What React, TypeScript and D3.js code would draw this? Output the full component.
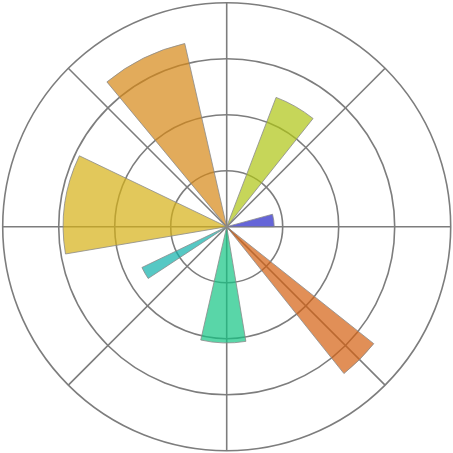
import * as React from "react"
import * as d3 from "d3"

// bar start angle (deg, ccw from east), angular width (deg), radius (0-10)
const barStarts = [0, 51.4, 102.9, 154.3, 205.7, 257.1, 308.6]
const barWidths = [15.2, 17.7, 26.7, 35.3, 7.7, 22.4, 12.9]
const barRadii = [2.12, 6.18, 8.39, 7.3, 4.2, 5.19, 8.39]
const barColors = ["#2424c7", "#aec413", "#d68716", "#d6b016", "#0eb0ab", "#13c483", "#d46010"]

const ringTicks = [2.5, 5, 7.5, 10]
const spokeAngles = [0, 45, 90, 135, 180, 225, 270, 315]

export default function App() {
    const size = 453
    const cx = 226.7
    const cy = 226.7
    const rMax = 224

    const r = d3.scaleLinear().domain([0, 10]).range([0, rMax])
    const toRad = (deg: number) => (deg * Math.PI) / 180

    const arc = d3.arc<{ start: number; width: number; value: number }>()
        .innerRadius(0)
        .outerRadius(d => r(d.value))
        // d3 measures clockwise from 12 o'clock, matplotlib ccw from east
        .startAngle(d => Math.PI / 2 - toRad(d.start + d.width))
        .endAngle(d => Math.PI / 2 - toRad(d.start))

    const bars = barStarts.map((s, i) => ({ start: s, width: barWidths[i], value: barRadii[i], color: barColors[i] }))

    return (
        <svg width={size} height={size} style={{ position: "absolute", left: 0, top: 0, background: "#fff" }}>
            <g transform={`translate(${cx},${cy})`}>
                {/* grid */}
                {ringTicks.map(t => (
                    <circle key={t} r={r(t)} fill="none" stroke="#7d7d7d" strokeWidth={1.6} />
                ))}
                {spokeAngles.map(a => (
                    <line key={a} x1={0} y1={0}
                        x2={rMax * Math.cos(toRad(a))} y2={-rMax * Math.sin(toRad(a))}
                        stroke="#7d7d7d" strokeWidth={1.6} />
                ))}
                {/* bars */}
                {bars.map((b, i) => (
                    <path key={i} d={arc(b) || ""} fill={b.color} fillOpacity={0.7}
                        stroke="#8a8a8a" strokeWidth={0.8} />
                ))}
            </g>
        </svg>
    )
}
